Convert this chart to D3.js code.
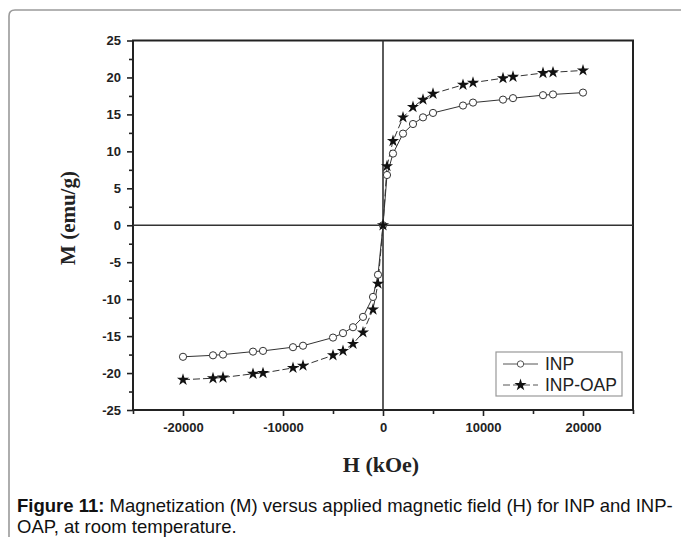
<!DOCTYPE html>
<html><head><meta charset="utf-8">
<script src="https://cdn.jsdelivr.net/npm/d3@7/dist/d3.min.js"></script>
<style>
html,body{margin:0;padding:0;background:#fff;}
svg{display:block;}
</style></head>
<body>
<svg id="chart" width="681" height="537"></svg>
<script>
// ---- data ----
const fieldH = [-20000,-17000,-16000,-13000,-12000,-9000,-8000,-5000,-4000,-3000,-2000,-1000,-500,0,400,1000,2000,3000,4000,5000,8000,9000,12000,13000,16000,17000,20000];
const inpM = [-17.8,-17.6,-17.5,-17.1,-17.0,-16.5,-16.3,-15.2,-14.6,-13.8,-12.4,-9.7,-6.7,0,6.8,9.7,12.4,13.7,14.6,15.2,16.2,16.6,17.0,17.2,17.6,17.7,17.95];
const oapM = [-20.9,-20.7,-20.6,-20.1,-20.0,-19.3,-19.0,-17.6,-17.0,-16.05,-14.5,-11.4,-7.9,0,8.0,11.4,14.6,16.0,17.0,17.8,19.0,19.3,19.9,20.1,20.6,20.7,20.95];
const seriesNames = ["INP","INP-OAP"];
const xMajorTicks = [-20000,-10000,0,10000,20000];
const xMinorTicks = [-25000,-15000,-5000,5000,15000,25000];
const yMajorTicks = [-25,-20,-15,-10,-5,0,5,10,15,20,25];
const yMinorTicks = [-22.5,-17.5,-12.5,-7.5,-2.5,2.5,7.5,12.5,17.5,22.5];
const xTitle = "H (kOe)";
const yTitle = "M (emu/g)";
const captionBold = "Figure 11:";
const captionLine1 = " Magnetization (M) versus applied magnetic field (H) for INP and INP-";
const captionLine2 = "OAP, at room temperature.";

const svg = d3.select("#chart");
const L = 133, R = 633, T = 40.5, B = 410;
const x = d3.scaleLinear().domain([-25000,25000]).range([L,R]);
const y = d3.scaleLinear().domain([-25,25]).range([B,T]);
const fmt = d => String(d); // plain hyphen-minus like the original

// outer frame
svg.append("path").attr("d","M9,537 V16 Q9,10 15,10 H681")
  .attr("fill","none").attr("stroke","#9a9a9a").attr("stroke-width",1.6);

// axes
const fontAx = "Arial, 'Liberation Sans', sans-serif";
const yAxis = svg.append("g").attr("transform",`translate(${L},0)`)
  .call(d3.axisLeft(y).tickValues(yMajorTicks).tickSize(6).tickPadding(6).tickFormat(fmt));
const yMin = svg.append("g").attr("transform",`translate(${L},0)`)
  .call(d3.axisLeft(y).tickValues(yMinorTicks).tickSize(4).tickFormat(""));
const xAxis = svg.append("g").attr("transform",`translate(0,${B})`)
  .call(d3.axisBottom(x).tickValues(xMajorTicks).tickSize(6).tickPadding(7).tickFormat(fmt));
const xMin = svg.append("g").attr("transform",`translate(0,${B})`)
  .call(d3.axisBottom(x).tickValues(xMinorTicks).tickSize(4).tickFormat(""));
[yAxis,yMin,xAxis,xMin].forEach(g=>{
  g.select(".domain").remove();
  g.selectAll(".tick line").attr("stroke","#222").attr("stroke-width",1.6);
  g.selectAll("text").attr("font-family",fontAx).attr("font-weight","bold")
    .attr("font-size",13).attr("fill","#222");
});

// box
svg.append("rect").attr("x",L).attr("y",T).attr("width",R-L).attr("height",B-T)
  .attr("fill","none").attr("stroke","#222").attr("stroke-width",2);
// zero lines
svg.append("line").attr("x1",L).attr("x2",R).attr("y1",y(0)).attr("y2",y(0))
  .attr("stroke","#333").attr("stroke-width",1.6);
svg.append("line").attr("x1",x(0)).attr("x2",x(0)).attr("y1",T).attr("y2",B)
  .attr("stroke","#333").attr("stroke-width",1.6);

// series
const inpData = fieldH.map((h,i)=>({h, m: inpM[i]}));
const oapData = fieldH.map((h,i)=>({h, m: oapM[i]}));
const line = d3.line().x(d=>x(d.h)).y(d=>y(d.m));
svg.append("path").datum(inpData).attr("d",line).attr("fill","none")
  .attr("stroke","#333").attr("stroke-width",1);
svg.append("path").datum(oapData).attr("d",line).attr("fill","none")
  .attr("stroke","#333").attr("stroke-width",1).attr("stroke-dasharray","7,3");

const star = d3.symbol().type(d3.symbolStar).size(46);
svg.append("g").selectAll("circle").data(inpData).join("circle")
  .attr("cx",d=>x(d.h)).attr("cy",d=>y(d.m)).attr("r",3.6)
  .attr("fill","#fff").attr("stroke","#333").attr("stroke-width",1);
svg.append("g").selectAll("path").data(oapData).join("path")
  .attr("d",star).attr("transform",d=>`translate(${x(d.h)},${y(d.m)})`)
  .attr("fill","#111");

// legend
const lg = svg.append("g");
lg.append("rect").attr("x",496).attr("y",352).attr("width",126).attr("height",44)
  .attr("fill","#fff").attr("stroke","#999").attr("stroke-width",1.2);
const legY = [364,385];
lg.append("line").attr("x1",503).attr("x2",538).attr("y1",legY[0]).attr("y2",legY[0])
  .attr("stroke","#555").attr("stroke-width",1);
lg.append("circle").attr("cx",520.5).attr("cy",legY[0]).attr("r",3.2)
  .attr("fill","#fff").attr("stroke","#555");
lg.append("line").attr("x1",503).attr("x2",538).attr("y1",legY[1]).attr("y2",legY[1])
  .attr("stroke","#555").attr("stroke-width",1).attr("stroke-dasharray","7,3");
lg.append("path").attr("d",star).attr("transform",`translate(520.5,${legY[1]})`).attr("fill","#111");
seriesNames.forEach((n,i)=>{
  lg.append("text").attr("x",545).attr("y",legY[i]+6).text(n)
    .attr("font-family",fontAx).attr("font-size",17.5).attr("fill","#222");
});

// axis titles
const fontSerif = "'Liberation Serif','Times New Roman',serif";
svg.append("text").attr("x",381).attr("y",472).attr("text-anchor","middle")
  .attr("font-family",fontSerif).attr("font-weight","bold").attr("font-size",22)
  .attr("fill","#222").text(xTitle);
svg.append("text").attr("transform","translate(75,218) rotate(-90)").attr("text-anchor","middle")
  .attr("font-family",fontSerif).attr("font-weight","bold").attr("font-size",21)
  .attr("fill","#222").text(yTitle);

// caption
const cap = svg.append("text").attr("x",17).attr("y",512)
  .attr("font-family",fontAx).attr("font-size",18.5).attr("fill","#111");
cap.append("tspan").attr("font-weight","bold").text(captionBold);
cap.append("tspan").text(captionLine1);
svg.append("text").attr("x",17).attr("y",533)
  .attr("font-family",fontAx).attr("font-size",18.5).attr("fill","#111").text(captionLine2);
</script>
</body></html>
